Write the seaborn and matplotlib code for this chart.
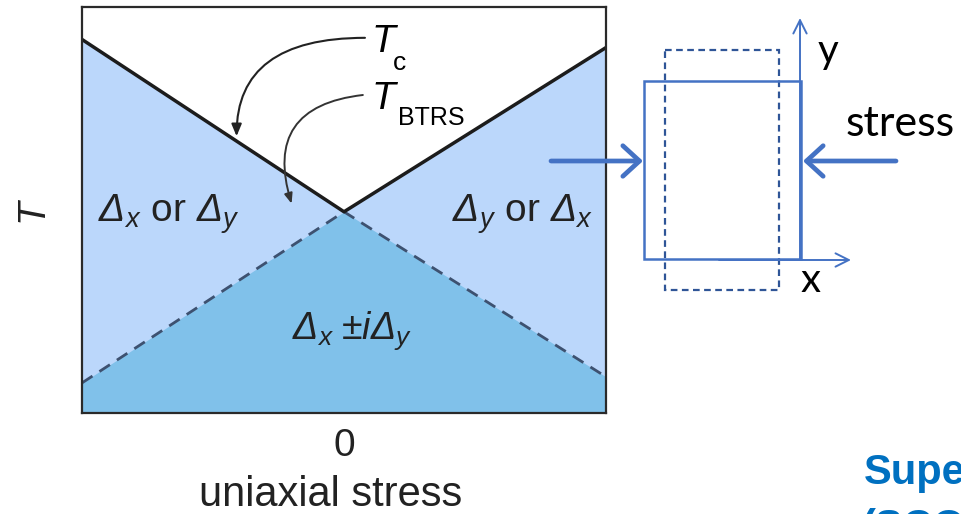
import matplotlib
matplotlib.use("Agg")
import matplotlib.pyplot as plt
import seaborn as sns
import pandas as pd
from matplotlib.patches import Rectangle

# phase boundaries vs uniaxial stress (normalised units)
stress = [-1.0, 0.0, 1.0]
t_c = [0.92, 0.495, 0.90]
t_btrs = [0.073, 0.495, 0.088]
tick_positions = [0.0]
tick_labels = ["0"]

df = pd.DataFrame({"stress": stress, "Tc": t_c, "Tbtrs": t_btrs})

sns.set_theme(style="white")
plt.rcParams["font.family"] = ["Liberation Sans", "DejaVu Sans"]
plt.rcParams["mathtext.fontset"] = "custom"
plt.rcParams["mathtext.rm"] = "Liberation Sans:italic"
plt.rcParams["mathtext.it"] = "Liberation Sans:italic"
plt.rcParams["mathtext.sf"] = "Liberation Sans"

W, H = 961, 514
fig = plt.figure(figsize=(W / 100, H / 100), dpi=100)
ax = fig.add_axes([82 / W, (H - 412.5) / H, (606 - 82) / W, (412.5 - 7) / H])

light = "#bbd7fb"
dark = "#80c1ea"
ink = "#222222"
ax.fill_between(df["stress"], 0, df["Tc"], color=light, lw=0, zorder=1)
ax.fill_between(df["stress"], 0, df["Tbtrs"], color=dark, lw=0, zorder=2)
sns.lineplot(data=df, x="stress", y="Tc", ax=ax, color="#1c1c1c", lw=2.5, zorder=4,
             solid_capstyle="butt")
sns.lineplot(data=df, x="stress", y="Tbtrs", ax=ax, color="#3d5170", lw=2.0, zorder=3,
             dashes=False, linestyle=(0, (4.5, 3)))

ax.set_xlim(-1, 1)
ax.set_ylim(0, 1)
ax.set_xticks(tick_positions)
ax.set_xticklabels(tick_labels, fontsize=28)
ax.set_yticks([])
ax.tick_params(axis="x", direction="in", length=12, width=1.6, color=ink, pad=11,
               bottom=True, labelcolor=ink)
ax.set_xlabel("uniaxial stress", fontsize=30, labelpad=9, color=ink)
ax.xaxis.set_label_coords(0.474, -0.155)
ax.xaxis.label.set_va("top")
ax.set_ylabel("T", fontsize=28, style="italic", labelpad=23, color=ink)
for s in ax.spines.values():
    s.set_color("#2a2a2a")
    s.set_linewidth(1.6)
    s.set_zorder(5)

# region labels
ax.text(-0.670, 0.470, r"$\Delta_x\ \mathsf{or}\ \Delta_y$", fontsize=28, ha="center", va="baseline", color=ink, zorder=6)
ax.text(0.683, 0.470, r"$\Delta_y\ \mathsf{or}\ \Delta_x$", fontsize=28, ha="center", va="baseline", color=ink, zorder=6)
ax.text(0.032, 0.181, r"$\Delta_x\;{\pm}i\Delta_y$", fontsize=27, ha="center", va="baseline", color=ink, zorder=6)

# curve labels with pointer arrows
ax.text(0.104, 0.914, "T", fontsize=28, style="italic", ha="left", va="center", color="black", zorder=6)
ax.text(0.187, 0.862, "c", fontsize=19, ha="left", va="center", color="black", zorder=6)
ax.text(0.104, 0.772, "T", fontsize=28, style="italic", ha="left", va="center", color="black", zorder=6)
ax.text(0.206, 0.726, "BTRS", fontsize=18, ha="left", va="center", color="black", zorder=6)

x_c = -0.41
y_c = t_c[1] + (t_c[0] - t_c[1]) * (-x_c)
ax.annotate("", xy=(x_c, y_c + 0.012), xytext=(0.08, 0.924),
            arrowprops=dict(arrowstyle="-|>,head_length=0.6,head_width=0.25", color=ink, lw=1.5,
                            connectionstyle="angle3,angleA=180,angleB=90", shrinkA=0, shrinkB=0),
            zorder=6)
ax.annotate("", xy=(-0.2, 0.515), xytext=(0.072, 0.783),
            arrowprops=dict(arrowstyle="-|>,head_length=0.5,head_width=0.2", color="#333333", lw=1.4,
                            connectionstyle="arc3,rad=0.6", shrinkA=0, shrinkB=0),
            zorder=6)

# sample schematic drawn in figure pixel space
ov = fig.add_axes([0, 0, 1, 1], zorder=10)
ov.set_xlim(0, W)
ov.set_ylim(H, 0)
ov.axis("off")
ov.patch.set_alpha(0)

blue = "#4472c4"
navy = "#2f5597"
ov.add_patch(Rectangle((665, 50), 114, 240, fill=False, ec=navy, lw=1.6, ls=(0, (3, 2))))
ov.add_patch(Rectangle((644, 81), 157, 178, fill=False, ec=blue, lw=1.8))
ov.annotate("", xy=(800, 18), xytext=(800, 259),
            arrowprops=dict(arrowstyle="->,head_length=0.8,head_width=0.4", color=blue, lw=1.4,
                            shrinkA=0, shrinkB=0))
ov.annotate("", xy=(851, 260), xytext=(719, 260),
            arrowprops=dict(arrowstyle="->,head_length=0.8,head_width=0.4", color=blue, lw=1.4,
                            shrinkA=0, shrinkB=0))
ov.annotate("", xy=(643, 161), xytext=(551, 161),
            arrowprops=dict(arrowstyle="->,head_length=0.6,head_width=0.55", color=blue, lw=3.4,
                            shrinkA=0, shrinkB=0, mutation_scale=20))
ov.annotate("", xy=(803, 161), xytext=(896, 161),
            arrowprops=dict(arrowstyle="->,head_length=0.6,head_width=0.55", color=blue, lw=3.4,
                            shrinkA=0, shrinkB=0, mutation_scale=20))

sch_font = ["Lato", "DejaVu Sans"]
ov.text(828, 52, "y", fontsize=29, family=sch_font, ha="center", va="center", color="black")
ov.text(811, 281, "x", fontsize=29, family=sch_font, ha="center", va="center", color="black")
ov.text(846, 124, "stress", fontsize=31, family=sch_font, ha="left", va="center", color="black")

ov.text(864, 473, "Superconductivity", fontsize=30, weight="bold",
        ha="left", va="center", color="#0070c0")
ov.text(862, 528, "(SCO", fontsize=30, weight="bold",
        ha="left", va="center", color="#0070c0")

fig.savefig("out.png", dpi=100)
